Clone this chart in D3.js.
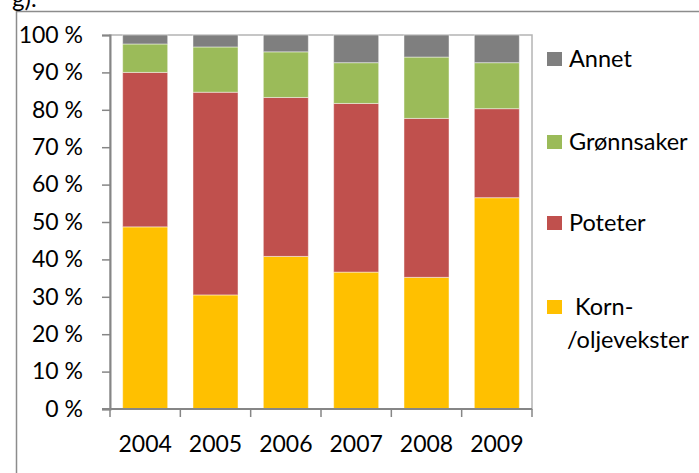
<!DOCTYPE html>
<html>
<head>
<meta charset="utf-8">
<script src="https://cdn.jsdelivr.net/npm/d3@7"></script>
<style>
  body { margin: 0; background: #fff; }
  text { font-family: Lato, "DejaVu Sans", sans-serif; fill: #000; }
</style>
</head>
<body>
<svg id="chart" width="699" height="473"></svg>
<script>
// data (percent of total per year)
const years = ["2004", "2005", "2006", "2007", "2008", "2009"];
const korn = [48.7, 30.5, 40.8, 36.6, 35.2, 56.5];
const poteter = [41.3, 54.2, 42.5, 45.1, 42.5, 23.8];
const gronnsaker = [7.6, 12.1, 12.2, 10.9, 16.4, 12.3];
const annet = [2.4, 3.2, 4.5, 7.4, 5.9, 7.4];
const yTicks = [0, 10, 20, 30, 40, 50, 60, 70, 80, 90, 100];

const seriesNames = ["Korn", "Poteter", "Grønnsaker", "Annet"];
const colors = ["#ffc000", "#c0504d", "#9bbb59", "#7f7f7f"];
const legendLabels = [["Annet"], ["Grønnsaker"], ["Poteter"], ["\u00a0Korn-", "/oljevekster"]];
const legendColors = ["#7f7f7f", "#9bbb59", "#c0504d", "#ffc000"];

const svg = d3.select("#chart");
const margin = {top: 35, left: 110, right: 167, bottom: 64};
const width = 699, height = 473;

// table for the stack
const table = years.map((yr, i) => ({
	year: yr, Korn: korn[i], Poteter: poteter[i], "Grønnsaker": gronnsaker[i], Annet: annet[i]
}));
const stacked = d3.stack().keys(seriesNames)(table);

const x = d3.scaleBand()
	.domain(years)
	.range([margin.left, width - margin.right])
	.paddingInner(0.36)
	.paddingOuter(0.18);

const y = d3.scaleLinear()
	.domain([0, 100])
	.range([height - margin.bottom, margin.top]);

// outer frame (partly cut off)
svg.append("path")
	.attr("d", "M16.5,480 V11.5 H710")
	.attr("fill", "none")
	.attr("stroke", "#8c8c8c")
	.attr("stroke-width", 1.5);

svg.append("text")
	.attr("x", 12)
	.attr("y", 7)
	.style("font-size", "24px")
	.text("g).");

// plot area border
svg.append("rect")
	.attr("x", margin.left)
	.attr("y", margin.top)
	.attr("width", width - margin.right - margin.left)
	.attr("height", y(0) - margin.top)
	.attr("fill", "none")
	.attr("stroke", "#b4b4b4")
	.attr("stroke-width", 1.5);

// bars
svg.selectAll(".layer")
	.data(stacked)
	.enter()
	.append("g")
		.attr("class", "layer")
		.attr("fill", (d, i) => colors[i])
	.selectAll("rect")
	.data(d => d)
	.enter()
	.append("rect")
		.attr("x", d => x(d.data.year))
		.attr("width", x.bandwidth())
		.attr("y", d => y(d[1]))
		.attr("height", d => y(d[0]) - y(d[1]))
		.attr("stroke", "rgba(255,255,255,0.45)")
		.attr("stroke-width", 1);

// y axis
const yAxis = d3.axisLeft(y)
	.tickValues(yTicks)
	.tickSize(8)
	.tickPadding(19)
	.tickFormat(d => d + " %");
const gy = svg.append("g")
	.attr("transform", "translate(" + margin.left + ",0)")
	.call(yAxis);
gy.select(".domain").attr("stroke", "#868686").attr("stroke-width", 2);
gy.selectAll(".tick line").attr("stroke", "#868686").attr("stroke-width", 1.5);
gy.selectAll(".tick text").style("font-size", "23px").style("font-family", "Lato, sans-serif").attr("fill", "#000");

// x axis with ticks on category boundaries
const gx = svg.append("g")
	.attr("transform", "translate(0," + y(0) + ")");
gx.append("line")
	.attr("x1", margin.left - 8)
	.attr("x2", width - margin.right)
	.attr("stroke", "#868686")
	.attr("stroke-width", 2);
const step = x.step();
const bounds = d3.range(years.length + 1).map(i => x(years[0]) - x.paddingOuter() * step + i * step);
gx.selectAll(".xtick")
	.data(bounds)
	.enter()
	.append("line")
		.attr("class", "xtick")
		.attr("x1", d => d)
		.attr("x2", d => d)
		.attr("y1", 0)
		.attr("y2", 8)
		.attr("stroke", "#868686")
		.attr("stroke-width", 1.5);
gx.selectAll(".xlabel")
	.data(years)
	.enter()
	.append("text")
		.attr("x", d => x(d) + x.bandwidth() / 2)
		.attr("y", 43)
		.style("font-size", "23px")
		.style("text-anchor", "middle")
		.text(d => d);

// legend
const legendY = [59, 142, 223, 307];
const leg = svg.selectAll(".legend")
	.data(legendLabels)
	.enter()
	.append("g")
		.attr("class", "legend")
		.attr("transform", (d, i) => "translate(547," + legendY[i] + ")");
leg.append("rect")
	.attr("x", 0)
	.attr("y", -7)
	.attr("width", 15)
	.attr("height", 14)
	.attr("fill", (d, i) => legendColors[i]);
leg.append("text")
	.attr("x", 22)
	.attr("y", 8)
	.style("font-size", "23.5px")
	.selectAll("tspan")
	.data(d => d)
	.enter()
	.append("tspan")
		.attr("x", (d, i) => i == 0 ? 22 : 20)
		.attr("dy", (d, i) => i == 0 ? 0 : 33)
		.text(d => d);
</script>
</body>
</html>
